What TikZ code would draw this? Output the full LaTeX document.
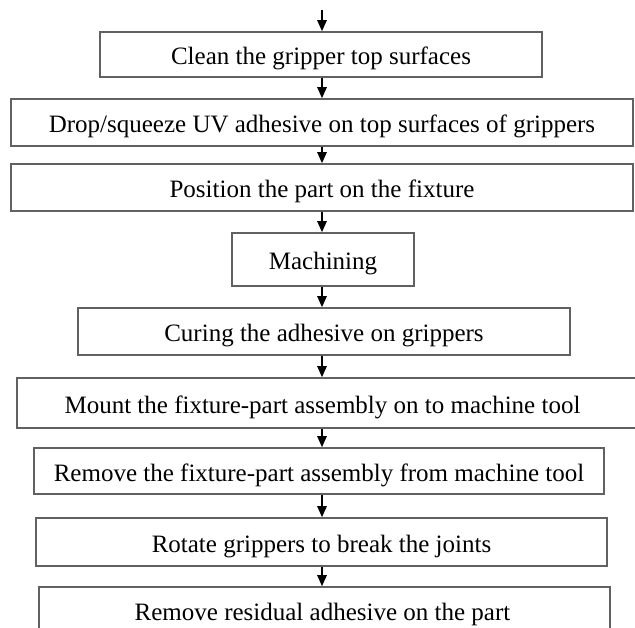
\documentclass[tikz,border=0pt]{standalone}
\usepackage{fontspec}
\setmainfont{Liberation Serif}
\usetikzlibrary{arrows.meta}
\tikzset{
  stepbox/.style={draw=black!62, line width=1.1pt, inner sep=0pt, align=center,
    text height=20pt, text depth=0pt,
    font=\fontsize{25}{30}\selectfont, text=black},
  flowarrow/.style={draw=black, line width=1.2pt, -{Triangle[length=11pt,width=9.5pt]}, shorten >=0.3pt}
}
\begin{document}
\begin{tikzpicture}[x=1pt,y=1pt]
\useasboundingbox (0,0) rectangle (635,-627);
\clip (0,0) rectangle (635,-627);
\coordinate (ax) at (322,0);
\coordinate (start) at (322,-10);
\node[stepbox, minimum width=442pt, minimum height=45pt] (b1) at (321,-54.5) {Clean the gripper top surfaces};
\node[stepbox, minimum width=622pt, minimum height=47pt] (b2) at (322,-122.5) {Drop/squeeze UV adhesive on top surfaces of grippers};
\node[stepbox, minimum width=622pt, minimum height=47pt] (b3) at (322,-187.5) {Position the part on the fixture};
\node[stepbox, minimum width=182pt, minimum height=53pt] (b4) at (323,-259.5) {Machining};
\node[stepbox, minimum width=492pt, minimum height=47pt] (b5) at (324,-331.5) {Curing the adhesive on grippers};
\node[stepbox, minimum width=623pt, minimum height=50pt] (b6) at (328.5,-403) {\hspace*{-12pt}Mount the fixture-part assembly on to machine tool};
\node[stepbox, minimum width=570pt, minimum height=46pt] (b7) at (319,-471) {Remove the fixture-part assembly from machine tool};
\node[stepbox, minimum width=571pt, minimum height=48pt] (b8) at (321.5,-542) {Rotate grippers to break the joints};
\node[stepbox, minimum width=571pt, minimum height=47pt] (b9) at (324.5,-610.5) {\hspace*{-4pt}Remove residual adhesive on the part};
\draw[flowarrow] (start) -- (b1.north -| ax);
\draw[flowarrow] (b1.south -| ax) -- (b2.north -| ax);
\draw[flowarrow] (b2.south -| ax) -- (b3.north -| ax);
\draw[flowarrow] (b3.south -| ax) -- (b4.north -| ax);
\draw[flowarrow] (b4.south -| ax) -- (b5.north -| ax);
\draw[flowarrow] (b5.south -| ax) -- (b6.north -| ax);
\draw[flowarrow] (b6.south -| ax) -- (b7.north -| ax);
\draw[flowarrow] (b7.south -| ax) -- (b8.north -| ax);
\draw[flowarrow] (b8.south -| ax) -- (b9.north -| ax);
\end{tikzpicture}
\end{document}
